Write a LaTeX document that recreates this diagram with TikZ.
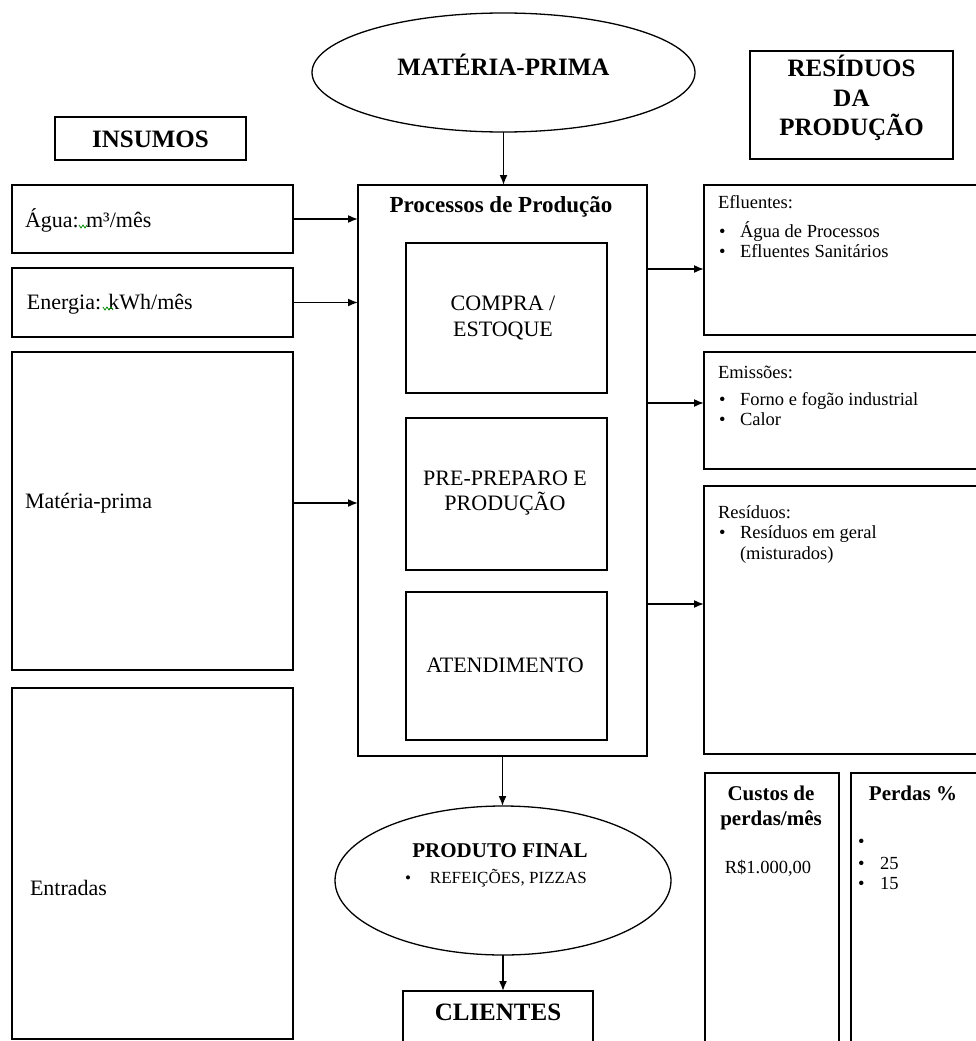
\documentclass[tikz,border=0pt]{standalone}
\usepackage{fontspec}
\setmainfont{Liberation Serif}
\usetikzlibrary{arrows.meta,shapes.geometric}
\begin{document}
\begin{tikzpicture}[x=1pt,y=-1pt,
 box/.style={draw, line width=1.8pt, rectangle, inner sep=0pt, outer sep=0pt},
 oval/.style={draw, line width=1.3pt, ellipse, inner sep=0pt, outer sep=0pt},
 arr/.style={line width=1.6pt, -{Latex[length=10pt,width=8pt]}},
 txt/.style={inner sep=0pt, outer sep=0pt, anchor=base west},
 ctxt/.style={inner sep=0pt, outer sep=0pt, anchor=base},
 hd/.style={font=\fontsize{25}{28}\selectfont\bfseries},
 sub/.style={font=\fontsize{21}{24}\selectfont\bfseries},
 lt/.style={font=\fontsize{22}{26}\selectfont},
 rt/.style={font=\fontsize{18.5}{21}\selectfont},
 squig/.style={draw=green!55!black, line width=0.8pt}
]
\clip (0,0) rectangle (976,1041);
\fill[white] (0,0) rectangle (976,1041);

% top ellipse and headers
\node[oval, minimum width=383pt, minimum height=119pt] (mpe) at (503.5,72.5) {};
\node[ctxt,hd] (tmp) at (503.5,75) {MATÉRIA-PRIMA};
\node[box, minimum width=191pt, minimum height=43pt] (insumos) at (150.5,138.5) {};
\node[ctxt,hd] (tins) at (150.5,147) {INSUMOS};
\node[box, minimum width=203pt, minimum height=108pt] (resid) at (851.5,105) {};
\node[ctxt,hd] (tres1) at (851.5,77) {RESÍDUOS};
\node[ctxt,hd] (tres2) at (851.5,106) {DA};
\node[ctxt,hd] (tres3) at (851.5,135) {PRODUÇÃO};

% left boxes
\node[box, minimum width=281pt, minimum height=68pt] (agua) at (152.5,219) {};
\node[txt,lt] (tagua) at (25,227) {Água: m³/mês};
\draw[squig] (79,225) -- (81,228) -- (83,225) -- (85,228) -- (87,225);
\node[box, minimum width=281pt, minimum height=69pt] (energia) at (152.5,302.5) {};
\node[txt,lt] (tener) at (27,309) {Energia: kWh/mês};
\draw[squig] (103,307) -- (105,310) -- (107,307) -- (109,310) -- (111,307) -- (113,310);
\node[box, minimum width=281pt, minimum height=318pt] (mp) at (152.5,511) {};
\node[txt,lt] (tmpl) at (25,508) {Matéria-prima};
\node[box, minimum width=281pt, minimum height=351pt] (entradas) at (152.5,863.5) {};
\node[txt,lt] (tent) at (30,895) {Entradas};

% process box
\node[box, minimum width=289pt, minimum height=571pt] (proc) at (502.5,470.5) {};
\node[ctxt, font=\fontsize{23}{26}\selectfont\bfseries] (tproc) at (501,212) {Processos de Produção};
\node[box, minimum width=201pt, minimum height=150pt] (compra) at (506.5,318) {};
\node[ctxt,lt] (tc1) at (503,310) {COMPRA /};
\node[ctxt,lt] (tc2) at (503,336) {ESTOQUE};
\node[box, minimum width=201pt, minimum height=152pt] (prep) at (506.5,494) {};
\node[ctxt,lt] (tp1) at (505,485) {PRE-PREPARO E};
\node[ctxt,lt] (tp2) at (505,510) {PRODUÇÃO};
\node[box, minimum width=201pt, minimum height=148pt] (atend) at (506.5,666) {};
\node[ctxt,lt] (ta1) at (505,672) {ATENDIMENTO};

% right boxes
\node[box, minimum width=281pt, minimum height=150pt] (eflu) at (844.5,260) {};
\node[txt,rt] (te0) at (718,208) {Efluentes:};
\node[txt,rt] (te1) at (719,237) {\makebox[21pt][l]{•}Água de Processos};
\node[txt,rt] (te2) at (719,257) {\makebox[21pt][l]{•}Efluentes Sanitários};
\node[box, minimum width=281pt, minimum height=117pt] (emis) at (844.5,410.5) {};
\node[txt,rt] (tm0) at (718,378) {Emissões:};
\node[txt,rt] (tm1) at (719,405) {\makebox[21pt][l]{•}Forno e fogão industrial};
\node[txt,rt] (tm2) at (719,425) {\makebox[21pt][l]{•}Calor};
\node[box, minimum width=281pt, minimum height=268pt] (resi) at (844.5,620) {};
\node[txt,rt] (tr0) at (718,518) {Resíduos:};
\node[txt,rt] (tr1) at (719,538) {\makebox[21pt][l]{•}Resíduos em geral};
\node[txt,rt] (tr2) at (740,559) {(misturados)};

% costs
\node[box, minimum width=134pt, minimum height=272pt] (custos) at (772,909) {};
\node[ctxt,sub] (tcu1) at (771,800) {Custos de};
\node[ctxt,sub] (tcu2) at (771,825) {perdas/mês};
\node[ctxt,rt] (tcu3) at (768,873) {R\$1.000,00};
\node[box, minimum width=134pt, minimum height=272pt] (perdas) at (918,909) {};
\node[ctxt,sub] (tpe0) at (913,800) {Perdas \%};
\node[txt,rt] (tpe1) at (858,847) {•};
\node[txt,rt] (tpe2) at (858,869) {\makebox[22pt][l]{•}25};
\node[txt,rt] (tpe3) at (858,889) {\makebox[22pt][l]{•}15};

% product and clients
\node[oval, minimum width=336pt, minimum height=149pt] (prod) at (503,880.5) {};
\node[ctxt,sub] (tpf) at (500,857) {PRODUTO FINAL};
\node[txt, font=\fontsize{17}{20}\selectfont] (tpf2) at (405,883) {\makebox[25pt][l]{•}REFEIÇÕES, PIZZAS};
\node[box, minimum width=190pt, minimum height=54pt] (clientes) at (498,1018) {};
\node[ctxt,hd] (tcli) at (498,1020) {CLIENTES};

% connectors
\draw[arr] (mpe.south) -- (mpe.south |- proc.north);
\draw[arr] (agua.east) -- (agua.east -| proc.west);
\draw[arr] (energia.east) -- (energia.east -| proc.west);
\draw[arr] ([yshift=8pt]mp.east) -- ([yshift=8pt]mp.east -| proc.west);
\draw[arr] ([yshift=-9pt]eflu.west -| proc.east) -- ([yshift=-9pt]eflu.west);
\draw[arr] ([yshift=7.5pt]emis.west -| proc.east) -- ([yshift=7.5pt]emis.west);
\draw[arr] ([yshift=16pt]resi.west -| proc.east) -- ([yshift=16pt]resi.west);
\draw[arr] (proc.south) -- (proc.south |- prod.north);
\draw[arr] (prod.south) -- (prod.south |- clientes.north);
\end{tikzpicture}
\end{document}
